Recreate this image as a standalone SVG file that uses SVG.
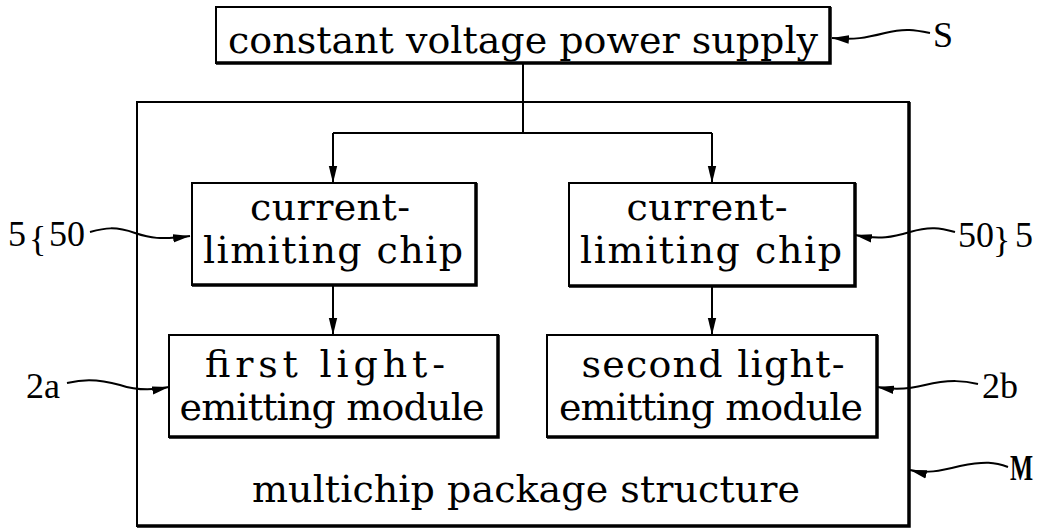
<svg xmlns="http://www.w3.org/2000/svg" width="1038" height="529" viewBox="0 0 1038 529">
<style>
.box{fill:#fff;stroke:#000;stroke-width:2}
.sh{fill:none;stroke:#000;stroke-width:3.5}
.t{font-family:"DejaVu Serif","Liberation Serif",serif;font-size:38px;fill:#000;text-anchor:middle}
.lb{font-family:"Liberation Serif","Times New Roman",serif;font-size:36px;fill:#000}
.ln{fill:none;stroke:#000;stroke-width:2}
.wv{fill:none;stroke:#000;stroke-width:2}
</style>
<defs>
<marker id="ah" markerUnits="userSpaceOnUse" markerWidth="18" markerHeight="10" viewBox="0 0 18 10" refX="17" refY="5" orient="auto">
<path d="M0,0.8 L17,5 L0,9.2 Z" fill="#000"/>
</marker>
</defs>
<rect x="0" y="0" width="1038" height="529" fill="#fff"/>
<g id="node-M">
<rect class="box" x="137" y="102" width="772" height="424"/>
<polyline class="sh" points="909,102 909,526 137,526"/>
<text class="t" x="526" y="502" textLength="548" lengthAdjust="spacing">multichip package structure</text>
</g>
<g id="node-S">
<rect class="box" x="216" y="7" width="614" height="56"/>
<polyline class="sh" points="830,7 830,63 216,63"/>
<text class="t" x="523" y="53" textLength="590" lengthAdjust="spacing">constant voltage power supply</text>
</g>
<g id="node-chip-left">
<rect class="box" x="192" y="183" width="284" height="102"/>
<polyline class="sh" points="476,183 476,285 192,285"/>
<text class="t" x="330" y="220" textLength="160" lengthAdjust="spacing">current-</text>
<text class="t" x="333" y="263" textLength="260" lengthAdjust="spacing">limiting chip</text>
</g>
<g id="node-chip-right">
<rect class="box" x="569" y="183" width="286" height="103"/>
<polyline class="sh" points="855,183 855,286 569,286"/>
<text class="t" x="707" y="220" textLength="161" lengthAdjust="spacing">current-</text>
<text class="t" x="711" y="263" textLength="262" lengthAdjust="spacing">limiting chip</text>
</g>
<g id="node-module-left">
<rect class="box" x="169" y="335" width="329" height="102"/>
<polyline class="sh" points="498,335 498,437 169,437"/>
<text class="t" x="325" y="377" textLength="240" lengthAdjust="spacing">first light-</text>
<text class="t" x="332" y="420" textLength="305" lengthAdjust="spacing">emitting module</text>
</g>
<g id="node-module-right">
<rect class="box" x="547" y="335" width="330" height="102"/>
<polyline class="sh" points="877,335 877,437 547,437"/>
<text class="t" x="713" y="377" textLength="263" lengthAdjust="spacing">second light-</text>
<text class="t" x="711" y="420" textLength="304" lengthAdjust="spacing">emitting module</text>
</g>
<g id="connectors">
<path class="ln" d="M523,63 V133"/>
<path class="ln" d="M333,133 H712"/>
<path class="ln" d="M333,133 V183" marker-end="url(#ah)"/>
<path class="ln" d="M712,133 V183" marker-end="url(#ah)"/>
<path class="ln" d="M333,285 V335" marker-end="url(#ah)"/>
<path class="ln" d="M712,286 V335" marker-end="url(#ah)"/>
</g>
<g id="leaders">
<path class="wv" d="M930,33 C915,30 905,28 885,33 C865,38 855,40 832,38" marker-end="url(#ah)"/>
<path class="wv" d="M90,232 C105,228 115,226 135,233 C150,238 160,240 190,236" marker-end="url(#ah)"/>
<path class="wv" d="M955,232 C940,228 930,226 910,232 C893,237 880,240 855,235" marker-end="url(#ah)"/>
<path class="wv" d="M67,383 C80,380 95,378 120,385 C135,390 150,391 169,387" marker-end="url(#ah)"/>
<path class="wv" d="M978,384 C965,381 950,379 925,385 C910,389 895,390 877,387" marker-end="url(#ah)"/>
<path class="wv" d="M1008,467 C995,462 985,461 960,466 C940,471 925,474 910,470" marker-end="url(#ah)"/>
</g>
<g id="labels">
<text class="lb" x="933" y="47">S</text>
<text class="lb" x="8" y="246">5</text>
<text class="lb" x="29" y="251" font-size="54">{</text>
<text class="lb" x="49" y="246">50</text>
<text class="lb" x="958" y="247">50</text>
<text class="lb" x="993" y="252" font-size="54">}</text>
<text class="lb" x="1015" y="247">5</text>
<text class="lb" x="26" y="398">2a</text>
<text class="lb" x="982" y="398">2b</text>
<text class="lb" x="0" y="0" font-weight="bold" font-size="32" transform="translate(1010,480) scale(0.68,1)">M</text>
</g>
</svg>
